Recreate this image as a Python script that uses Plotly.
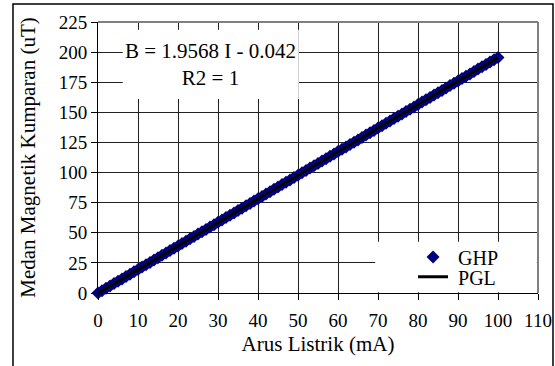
import plotly.graph_objects as go

# Measured data (GHP): current I (mA) and magnetic field B (uT)
arus = list(range(0, 101))
medan = [
    0.0, 1.9, 3.9, 5.9, 7.8, 9.7, 11.7, 13.7, 15.6, 17.6,
    19.5, 21.5, 23.5, 25.4, 27.4, 29.3, 31.3, 33.2, 35.2, 37.1,
    39.1, 41.1, 43.0, 45.0, 46.9, 48.9, 50.8, 52.8, 54.8, 56.7,
    58.7, 60.6, 62.6, 64.5, 66.5, 68.4, 70.4, 72.4, 74.3, 76.3,
    78.2, 80.2, 82.1, 84.1, 86.1, 88.0, 90.0, 91.9, 93.9, 95.8,
    97.8, 99.8, 101.7, 103.7, 105.6, 107.6, 109.5, 111.5, 113.5, 115.4,
    117.4, 119.3, 121.3, 123.2, 125.2, 127.1, 129.1, 131.1, 133.0, 135.0,
    136.9, 138.9, 140.9, 142.8, 144.8, 146.7, 148.7, 150.6, 152.6, 154.5,
    156.5, 158.5, 160.4, 162.4, 164.3, 166.3, 168.2, 170.2, 172.2, 174.1,
    176.1, 178.0, 180.0, 181.9, 183.9, 185.9, 187.8, 189.8, 191.7, 193.7,
    195.6,
]

# Linear fit (PGL) end points
fit_x = [0, 100]
fit_y = [-0.042, 195.638]

x_ticks = list(range(0, 111, 10))
y_ticks = list(range(0, 226, 25))

FONT = "Liberation Serif"
tick_font = dict(family=FONT, size=19, color="black")
title_font = dict(family=FONT, size=21, color="black")
legend_font = dict(family=FONT, size=20, color="black")

fig = go.Figure()
fig.add_trace(go.Scatter(
    x=arus, y=medan, mode="markers", name=" GHP",
    marker=dict(symbol="diamond", size=10, color="#000080", line=dict(width=0)),
    cliponaxis=False, legend="legend",
))
fig.add_trace(go.Scatter(
    x=fit_x, y=fit_y, mode="lines", name=" PGL",
    line=dict(color="black", width=3),
    cliponaxis=False, legend="legend2",
))

legend_common = dict(
    xanchor="left", yanchor="top",
    bgcolor="rgba(0,0,0,0)", borderwidth=0,
    font=legend_font, itemwidth=30,
)

fig.update_layout(
    template="none",
    width=555, height=366,
    margin=dict(l=98, r=17, t=22, b=73, autoexpand=False),
    paper_bgcolor="white", plot_bgcolor="white",
    font=dict(family=FONT, size=19, color="black"),
    showlegend=True,
    legend=dict(x=0.716, y=0.205, **legend_common),
    legend2=dict(x=0.716, y=0.132, **legend_common),
    xaxis=dict(
        range=[0, 110], tickvals=x_ticks, ticktext=[str(v) for v in x_ticks],
        tickfont=tick_font, ticklabelstandoff=4,
        showgrid=True, gridcolor="#222222", gridwidth=1,
        showline=True, linecolor="black", linewidth=1,
        ticks="outside", ticklen=6, tickcolor="black",
        zeroline=False, automargin=False,
        title=dict(text="Arus Listrik (mA)", font=title_font, standoff=6),
    ),
    yaxis=dict(
        range=[0, 225], tickvals=y_ticks, ticktext=[str(v) for v in y_ticks],
        tickfont=tick_font,
        showgrid=True, gridcolor="#222222", gridwidth=1,
        showline=True, linecolor="black", linewidth=1,
        ticks="outside", ticklen=6, tickcolor="black",
        zeroline=False, automargin=False,
        title=dict(text="Medan Magnetik Kumparan (uT)", font=title_font, standoff=17),
    ),
)

# white box behind the equation text (covers gridlines)
fig.add_shape(type="rect", xref="x", yref="y", x0=6.2, x1=50.2, y0=161, y1=218.5,
              fillcolor="white", line=dict(width=0), layer="between")
# white box behind legend
fig.add_shape(type="rect", xref="x", yref="y", x0=69.3, x1=109.7, y0=0.7, y1=42.5,
              fillcolor="white", line=dict(width=0), layer="between")
# gray top/right plot border
fig.add_shape(type="line", xref="paper", yref="paper", x0=0, x1=1, y0=1, y1=1,
              line=dict(color="#808080", width=2))
fig.add_shape(type="line", xref="paper", yref="paper", x0=1, x1=1, y0=0, y1=1,
              line=dict(color="#808080", width=2))
# outer chart frame
fig.add_shape(type="rect", xref="paper", yref="paper",
              x0=(13 - 98) / 440, x1=(553 - 98) / 440,
              y0=(293 - 380) / 271, y1=(293 - 4) / 271,
              line=dict(color="black", width=1.5), fillcolor="rgba(0,0,0,0)")

fig.add_annotation(
    xref="x", yref="y", x=28.2, y=189.5,
    text="B = 1.9568 I - 0.042<br>R2 = 1", showarrow=False,
    font=title_font, align="center",
)

fig.write_html("out.html", config={"displayModeBar": False},
               post_script="document.body.style.margin='0';")
